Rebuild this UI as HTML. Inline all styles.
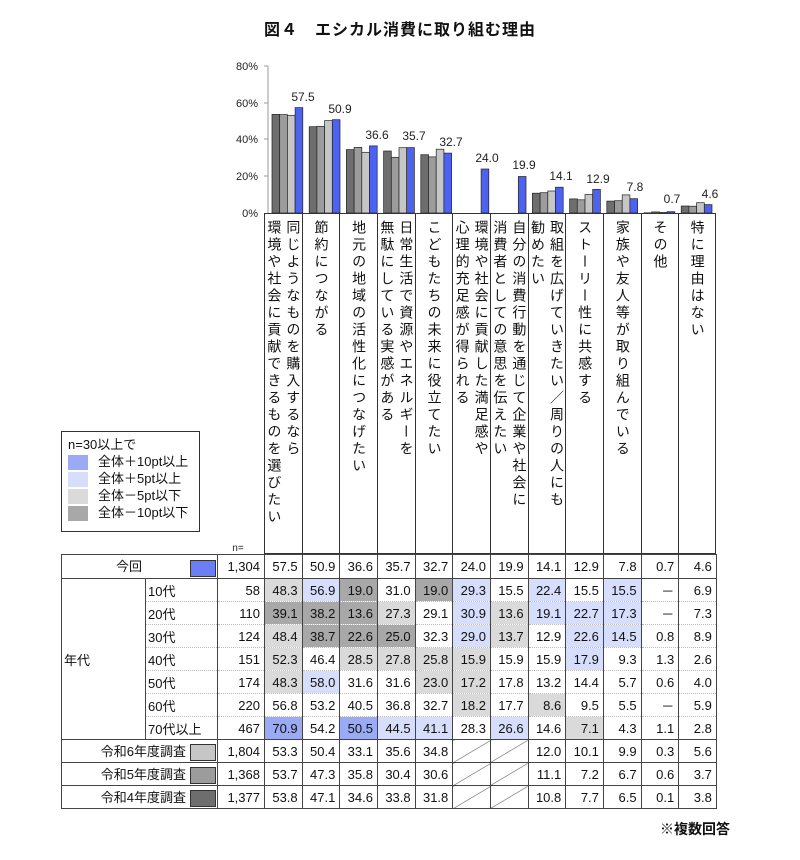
<!DOCTYPE html>
<html><head><meta charset="utf-8"><style>
body{margin:0;background:#fff;width:800px;height:860px;position:relative;overflow:hidden;font-family:"Liberation Sans","Noto Sans CJK JP",sans-serif;color:#111}
.title{position:absolute;top:16px;left:0;width:800px;text-align:center;font-size:16px;font-weight:bold;letter-spacing:1px}
.lab{position:absolute;top:213px;width:37.67px;height:341px;box-sizing:border-box;border:1px solid #333;border-right:none;display:flex;justify-content:center;padding-top:6px}
.lab span{writing-mode:vertical-rl;font-size:14px;letter-spacing:3px;line-height:19px}
table{position:absolute;left:61px;top:554px;border-collapse:collapse;table-layout:fixed;font-size:13px}
td{border:1px solid #444;height:22px;padding:0 4px 0 0;text-align:right;white-space:nowrap;overflow:hidden}
tr.ag td.v,tr.ag td.s{border-top:1px dotted #bbb;border-bottom:1px dotted #bbb}
tr.last td{border-bottom:1px solid #444}
td.s{text-align:left;padding-left:2px}
.a{background:#9aaaf4}.b{background:#d6defb}.c{background:#dadada}.d{background:#a8a8a8}
.x{background:linear-gradient(to bottom right,transparent calc(50% - 0.6px),#666 50%,transparent calc(50% + 0.6px))}
.sw{display:inline-block;width:24px;height:15px;border:1px solid #333;vertical-align:middle;margin-left:4px}
.leg{position:absolute;left:61px;top:431px;width:139px;height:101px;box-sizing:border-box;border:1px solid #333;font-size:13px;padding:4px 6px}
.leg div{height:17px;line-height:17px}
.leg i{display:inline-block;width:20px;height:15px;vertical-align:middle;margin-right:10px}
</style></head><body>
<div class="title">図４　エシカル消費に取り組む理由</div>
<svg width="800" height="860" style="position:absolute;left:0;top:0">
<g font-size="11" fill="#222" text-anchor="end">
<text x="258" y="70">80%</text><text x="258" y="107">60%</text><text x="258" y="143">40%</text><text x="258" y="180">20%</text><text x="258" y="217">0%</text>
</g>
<line x1="268" y1="66" x2="268" y2="213" stroke="#999"/>
<g stroke="#999"><line x1="264" y1="66" x2="268" y2="66"/><line x1="264" y1="103" x2="268" y2="103"/><line x1="264" y1="139" x2="268" y2="139"/><line x1="264" y1="176" x2="268" y2="176"/></g>
<g stroke="#222" stroke-width="0.7">
<g transform="translate(272,0)"><rect x="0" y="114.4" width="7.7" height="98.6" fill="#6e6e6e"/><rect x="7.7" y="114.6" width="7.7" height="98.4" fill="#9c9c9c"/><rect x="15.4" y="115.3" width="7.7" height="97.7" fill="#c6c6c6"/><rect x="23.1" y="107.6" width="7.7" height="105.4" fill="#4d63ef"/></g>
<g transform="translate(309.2,0)"><rect x="0" y="126.7" width="7.7" height="86.3" fill="#6e6e6e"/><rect x="7.7" y="126.3" width="7.7" height="86.7" fill="#9c9c9c"/><rect x="15.4" y="120.6" width="7.7" height="92.4" fill="#c6c6c6"/><rect x="23.1" y="119.7" width="7.7" height="93.3" fill="#4d63ef"/></g>
<g transform="translate(346.4,0)"><rect x="0" y="149.6" width="7.7" height="63.4" fill="#6e6e6e"/><rect x="7.7" y="147.4" width="7.7" height="65.6" fill="#9c9c9c"/><rect x="15.4" y="152.3" width="7.7" height="60.7" fill="#c6c6c6"/><rect x="23.1" y="145.9" width="7.7" height="67.1" fill="#4d63ef"/></g>
<g transform="translate(383.6,0)"><rect x="0" y="151" width="7.7" height="62" fill="#6e6e6e"/><rect x="7.7" y="157.3" width="7.7" height="55.7" fill="#9c9c9c"/><rect x="15.4" y="147.7" width="7.7" height="65.3" fill="#c6c6c6"/><rect x="23.1" y="147.6" width="7.7" height="65.4" fill="#4d63ef"/></g>
<g transform="translate(420.8,0)"><rect x="0" y="154.7" width="7.7" height="58.3" fill="#6e6e6e"/><rect x="7.7" y="156.9" width="7.7" height="56.1" fill="#9c9c9c"/><rect x="15.4" y="149.2" width="7.7" height="63.8" fill="#c6c6c6"/><rect x="23.1" y="153.1" width="7.7" height="59.9" fill="#4d63ef"/></g>
<g transform="translate(458,0)"><rect x="23.1" y="169" width="7.7" height="44" fill="#4d63ef"/></g>
<g transform="translate(495.2,0)"><rect x="23.1" y="176.5" width="7.7" height="36.5" fill="#4d63ef"/></g>
<g transform="translate(532.4,0)"><rect x="0" y="193.2" width="7.7" height="19.8" fill="#6e6e6e"/><rect x="7.7" y="192.7" width="7.7" height="20.3" fill="#9c9c9c"/><rect x="15.4" y="191" width="7.7" height="22" fill="#c6c6c6"/><rect x="23.1" y="187.2" width="7.7" height="25.8" fill="#4d63ef"/></g>
<g transform="translate(569.6,0)"><rect x="0" y="198.9" width="7.7" height="14.1" fill="#6e6e6e"/><rect x="7.7" y="199.8" width="7.7" height="13.2" fill="#9c9c9c"/><rect x="15.4" y="194.5" width="7.7" height="18.5" fill="#c6c6c6"/><rect x="23.1" y="189.4" width="7.7" height="23.6" fill="#4d63ef"/></g>
<g transform="translate(606.8,0)"><rect x="0" y="201.1" width="7.7" height="11.9" fill="#6e6e6e"/><rect x="7.7" y="200.7" width="7.7" height="12.3" fill="#9c9c9c"/><rect x="15.4" y="194.9" width="7.7" height="18.1" fill="#c6c6c6"/><rect x="23.1" y="198.7" width="7.7" height="14.3" fill="#4d63ef"/></g>
<g transform="translate(644,0)"><rect x="0" y="212.8" width="7.7" height="0.2" fill="#6e6e6e"/><rect x="7.7" y="211.9" width="7.7" height="1.1" fill="#9c9c9c"/><rect x="15.4" y="212.5" width="7.7" height="0.5" fill="#c6c6c6"/><rect x="23.1" y="211.7" width="7.7" height="1.3" fill="#4d63ef"/></g>
<g transform="translate(681.2,0)"><rect x="0" y="206" width="7.7" height="7" fill="#6e6e6e"/><rect x="7.7" y="206.2" width="7.7" height="6.8" fill="#9c9c9c"/><rect x="15.4" y="202.7" width="7.7" height="10.3" fill="#c6c6c6"/><rect x="23.1" y="204.6" width="7.7" height="8.4" fill="#4d63ef"/></g>
</g>
<g font-size="12" fill="#222" text-anchor="middle">
<text x="303" y="101">57.5</text><text x="340" y="113">50.9</text><text x="377" y="139">36.6</text><text x="414" y="140">35.7</text><text x="451" y="146">32.7</text><text x="487" y="162">24.0</text><text x="524" y="169">19.9</text><text x="561" y="180">14.1</text><text x="598" y="183">12.9</text><text x="635" y="191">7.8</text><text x="672" y="203">0.7</text><text x="710" y="198">4.6</text>
</g>
<text x="238" y="551" font-size="10" fill="#222" text-anchor="middle">n=</text>
<text x="730" y="834" font-size="14" font-weight="bold" fill="#111" text-anchor="end">※複数回答</text>
</svg>
<div class="lab" style="left:264px"><span>同じようなものを購入するなら<br>環境や社会に貢献できるものを選びたい</span></div>
<div class="lab" style="left:301.67px"><span>節約につながる</span></div>
<div class="lab" style="left:339.33px"><span>地元の地域の活性化につなげたい</span></div>
<div class="lab" style="left:377px"><span>日常生活で資源やエネルギーを<br>無駄にしている実感がある</span></div>
<div class="lab" style="left:414.67px"><span>こどもたちの未来に役立てたい</span></div>
<div class="lab" style="left:452.33px"><span>環境や社会に貢献した満足感や<br>心理的充足感が得られる</span></div>
<div class="lab" style="left:490px"><span>自分の消費行動を通じて企業や社会に<br>消費者としての意思を伝えたい</span></div>
<div class="lab" style="left:527.67px"><span>取組を広げていきたい／周りの人にも<br>勧めたい</span></div>
<div class="lab" style="left:565.33px"><span>ストーリー性に共感する</span></div>
<div class="lab" style="left:603px"><span>家族や友人等が取り組んでいる</span></div>
<div class="lab" style="left:640.67px"><span>その他</span></div>
<div class="lab" style="left:678.33px;border-right:1px solid #333"><span>特に理由はない</span></div>
<div class="leg">
<div>n=30以上で</div>
<div><i style="background:#9aaaf4"></i>全体＋10pt以上</div>
<div><i style="background:#d6defb"></i>全体＋5pt以上</div>
<div><i style="background:#dadada"></i>全体－5pt以下</div>
<div><i style="background:#a8a8a8"></i>全体－10pt以下</div>
</div>
<table>
<colgroup><col style="width:84px"><col style="width:72px"><col style="width:47px"><col style="width:37.67px"><col style="width:37.67px"><col style="width:37.67px"><col style="width:37.67px"><col style="width:37.67px"><col style="width:37.67px"><col style="width:37.67px"><col style="width:37.67px"><col style="width:37.67px"><col style="width:37.67px"><col style="width:37.67px"><col style="width:37.67px"></colgroup>
<tr><td colspan="2" style="height:23px;text-align:right;padding-right:1px"><span style="display:inline-block;margin-right:44px">今回</span><span class="sw" style="background:#6a7ff4"></span></td><td>1,304</td><td>57.5</td><td>50.9</td><td>36.6</td><td>35.7</td><td>32.7</td><td>24.0</td><td>19.9</td><td>14.1</td><td>12.9</td><td>7.8</td><td>0.7</td><td>4.6</td></tr>
<tr class="ag"><td rowspan="7" style="text-align:left;padding-left:2px">年代</td><td class="s">10代</td><td class="v">58</td><td class="v c">48.3</td><td class="v b">56.9</td><td class="v d">19.0</td><td class="v">31.0</td><td class="v d">19.0</td><td class="v b">29.3</td><td class="v">15.5</td><td class="v b">22.4</td><td class="v">15.5</td><td class="v b">15.5</td><td class="v">－</td><td class="v">6.9</td></tr>
<tr class="ag"><td class="s">20代</td><td class="v">110</td><td class="v d">39.1</td><td class="v d">38.2</td><td class="v d">13.6</td><td class="v c">27.3</td><td class="v">29.1</td><td class="v b">30.9</td><td class="v c">13.6</td><td class="v b">19.1</td><td class="v b">22.7</td><td class="v b">17.3</td><td class="v">－</td><td class="v">7.3</td></tr>
<tr class="ag"><td class="s">30代</td><td class="v">124</td><td class="v c">48.4</td><td class="v d">38.7</td><td class="v d">22.6</td><td class="v d">25.0</td><td class="v">32.3</td><td class="v b">29.0</td><td class="v c">13.7</td><td class="v">12.9</td><td class="v b">22.6</td><td class="v b">14.5</td><td class="v">0.8</td><td class="v">8.9</td></tr>
<tr class="ag"><td class="s">40代</td><td class="v">151</td><td class="v c">52.3</td><td class="v">46.4</td><td class="v c">28.5</td><td class="v c">27.8</td><td class="v c">25.8</td><td class="v c">15.9</td><td class="v">15.9</td><td class="v">15.9</td><td class="v b">17.9</td><td class="v">9.3</td><td class="v">1.3</td><td class="v">2.6</td></tr>
<tr class="ag"><td class="s">50代</td><td class="v">174</td><td class="v c">48.3</td><td class="v b">58.0</td><td class="v">31.6</td><td class="v">31.6</td><td class="v c">23.0</td><td class="v c">17.2</td><td class="v">17.8</td><td class="v">13.2</td><td class="v">14.4</td><td class="v">5.7</td><td class="v">0.6</td><td class="v">4.0</td></tr>
<tr class="ag"><td class="s">60代</td><td class="v">220</td><td class="v">56.8</td><td class="v">53.2</td><td class="v">40.5</td><td class="v">36.8</td><td class="v">32.7</td><td class="v c">18.2</td><td class="v">17.7</td><td class="v c">8.6</td><td class="v">9.5</td><td class="v">5.5</td><td class="v">－</td><td class="v">5.9</td></tr>
<tr class="ag last"><td class="s">70代以上</td><td class="v">467</td><td class="v a">70.9</td><td class="v">54.2</td><td class="v a">50.5</td><td class="v b">44.5</td><td class="v b">41.1</td><td class="v">28.3</td><td class="v b">26.6</td><td class="v">14.6</td><td class="v c">7.1</td><td class="v">4.3</td><td class="v">1.1</td><td class="v">2.8</td></tr>
<tr><td colspan="2" style="padding-right:1px">令和6年度調査<span class="sw" style="background:#c6c6c6"></span></td><td>1,804</td><td>53.3</td><td>50.4</td><td>33.1</td><td>35.6</td><td>34.8</td><td class="x"></td><td class="x"></td><td>12.0</td><td>10.1</td><td>9.9</td><td>0.3</td><td>5.6</td></tr>
<tr><td colspan="2" style="padding-right:1px">令和5年度調査<span class="sw" style="background:#9c9c9c"></span></td><td>1,368</td><td>53.7</td><td>47.3</td><td>35.8</td><td>30.4</td><td>30.6</td><td class="x"></td><td class="x"></td><td>11.1</td><td>7.2</td><td>6.7</td><td>0.6</td><td>3.7</td></tr>
<tr><td colspan="2" style="padding-right:1px">令和4年度調査<span class="sw" style="background:#6e6e6e"></span></td><td>1,377</td><td>53.8</td><td>47.1</td><td>34.6</td><td>33.8</td><td>31.8</td><td class="x"></td><td class="x"></td><td>10.8</td><td>7.7</td><td>6.5</td><td>0.1</td><td>3.8</td></tr>
</table>
</body></html>
